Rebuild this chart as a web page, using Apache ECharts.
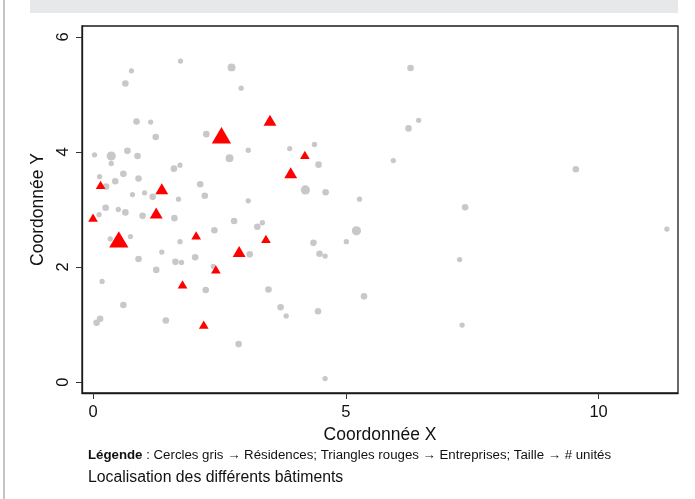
<!DOCTYPE html>
<html>
<head>
<meta charset="utf-8">
<script src="https://cdn.jsdelivr.net/npm/echarts@6/dist/echarts.min.js"></script>
<style>
html,body{margin:0;padding:0;background:#fff;}
#chart{width:695px;height:499px;}
</style>
</head>
<body>
<div id="chart"></div>
<script>
// Résidences (cercles gris): coordonnées et nombre d'unités
const resX = [0.76,0.64,1.73,2.74,2.93,6.28,6.44,6.24,4.38,4.46,5.94,9.55,4.20,4.60,5.27,7.36,11.35,5.21,4.36,5.01,4.48,4.59,7.25,5.36,4.45,7.30,4.59,0.86,1.14,1.24,2.24,3.07,3.89,0.03,0.36,0.36,0.68,0.88,2.70,0.13,0.60,0.90,0.44,0.26,1.60,1.72,2.12,2.21,3.07,0.78,1.02,1.18,1.69,0.25,0.50,0.64,0.98,1.61,0.12,2.40,2.79,3.25,3.35,0.34,0.74,1.72,0.90,1.36,1.63,1.75,2.02,1.25,2.38,0.18,2.23,0.60,0.14,0.07,1.44,3.10,3.47,3.71,3.82,2.88];
const resY = [5.41,5.19,5.58,5.47,5.11,5.46,4.55,4.41,4.13,3.78,3.85,3.70,3.34,3.30,3.18,3.04,2.66,2.63,2.42,2.44,2.23,2.19,2.13,1.49,1.23,0.99,0.06,4.53,4.52,4.26,4.31,4.03,4.06,3.95,3.93,3.80,4.02,3.93,3.89,3.57,3.62,3.54,3.49,3.40,3.71,3.77,3.44,3.24,3.15,3.26,3.29,3.22,3.18,3.03,3.00,2.95,2.89,2.85,2.91,2.64,2.80,2.70,2.77,2.49,2.53,2.44,2.14,2.26,2.09,2.08,2.17,1.95,2.01,1.75,1.60,1.34,1.10,1.03,1.07,2.22,1.61,1.30,1.15,0.66];
const resUnits = [1,2,1,3,1,2,1,2,1,2,1,2,4,2,1,2,1,4,2,1,2,1,1,2,2,1,1,2,1,2,2,1,1,1,4,1,2,2,3,1,2,2,2,2,2,1,2,2,1,1,1,2,1,2,1,2,2,2,1,2,2,2,1,1,1,1,2,1,2,1,2,2,1,1,2,2,2,2,2,2,2,2,1,2];

// Entreprises (triangles rouges)
const entX = [2.54,3.50,4.19,3.91,0.15,1.36,1.25,0.00,0.51,2.04,2.89,3.42,2.43,1.77,2.19];
const entY = [4.29,4.55,3.95,3.64,3.43,3.36,2.94,2.86,2.48,2.55,2.27,2.49,1.96,1.70,1.00];
const entUnits = [4,2,1,2,1,2,2,1,4,1,2,1,1,1,1];

const xTicks = [0,5,10];
const yTicks = [0,2,4,6];

const resData = resX.map((x,i)=>[x,resY[i],resUnits[i]]);
const entData = entX.map((x,i)=>[x,entY[i],entUnits[i]]);

const chart = echarts.init(document.getElementById('chart'), null, {renderer:'canvas'});
const FONT = '"Liberation Sans", Arial, sans-serif';

chart.setOption({
  backgroundColor:'#ffffff',
  animation:false,
  title:[
    {
      text:'Localisation des différents bâtiments',
      left:88, top:470, padding:0,
      textStyle:{fontFamily:FONT, fontSize:15.8, fontWeight:'normal', color:'#111'}
    },
    {
      text:'{b|Légende} : Cercles gris → Résidences; Triangles rouges → Entreprises; Taille → # unités',
      left:88, top:449, padding:0,
      textStyle:{fontFamily:FONT, fontSize:13.25, fontWeight:'normal', color:'#111',
        rich:{b:{fontFamily:FONT, fontSize:13.25, fontWeight:'bold', color:'#111'}}}
    }
  ],
  graphic:[
    {type:'rect', shape:{x:30,y:0,width:648,height:13}, style:{fill:'#e7e8e9'}, silent:true},
    {type:'line', shape:{x1:4,y1:0,x2:4,y2:499}, style:{stroke:'#8a8a8a', lineWidth:1}, silent:true}
  ],
  grid:{left:82, right:17, top:26, bottom:106, show:true, borderColor:'#1a1a1a', borderWidth:1.3, backgroundColor:'#fff'},
  xAxis:{
    type:'value', min:-0.218, max:11.57,
    name:'Coordonnée X', nameLocation:'middle', nameGap:30,
    nameTextStyle:{fontFamily:FONT, fontSize:17.5, color:'#111'},
    axisLine:{show:true, onZero:false, lineStyle:{color:'#1a1a1a', width:1.3}},
    axisTick:{show:true, length:6, lineStyle:{color:'#333'}, customValues:xTicks},
    axisLabel:{customValues:xTicks, fontFamily:FONT, fontSize:16.5, color:'#111', margin:11},
    splitLine:{show:false}
  },
  yAxis:{
    type:'value', min:-0.19, max:6.19,
    name:'Coordonnée Y', nameLocation:'middle', nameGap:35, nameRotate:90,
    nameTextStyle:{fontFamily:FONT, fontSize:17.5, color:'#111'},
    axisLine:{show:true, onZero:false, lineStyle:{color:'#1a1a1a', width:1.3}},
    axisTick:{show:true, length:6, lineStyle:{color:'#333'}, customValues:yTicks},
    axisLabel:{customValues:yTicks, rotate:90, fontFamily:FONT, fontSize:16.5, color:'#111', margin:10},
    splitLine:{show:false}
  },
  series:[
    {
      name:'Résidences', type:'scatter', data:resData,
      symbol:'circle',
      symbolSize:(v)=>4 + 1.3*v[2],
      itemStyle:{color:'#c8c8ca', opacity:1}
    },
    {
      name:'Entreprises', type:'scatter', data:entData,
      symbol:'triangle',
      symbolSize:(v)=>{const w = 6.5 + 3.2*v[2]; return [w, w*0.85];},
      itemStyle:{color:'#ff0000', opacity:1}
    }
  ]
});
</script>
</body>
</html>
